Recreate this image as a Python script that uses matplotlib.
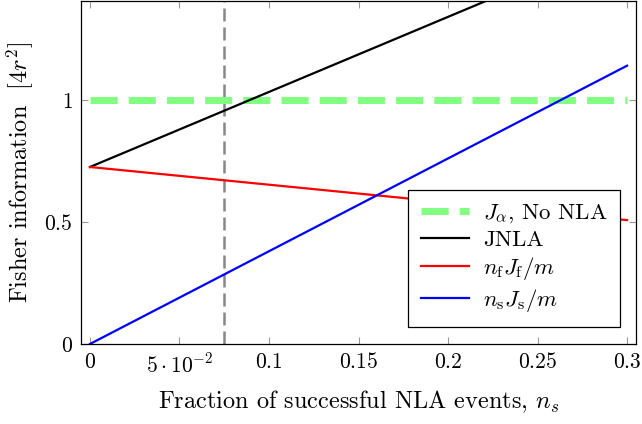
import numpy as np
import matplotlib
matplotlib.use("Agg")
import matplotlib.pyplot as plt

# Data
n_s = [0.0, 0.3]
nf_Jf = [0.725, 0.5075]
ns_Js = [0.0, 1.14]
jnla = [a + b for a, b in zip(nf_Jf, ns_Js)]
j_alpha = [1.0, 1.0]
vline_x = 0.075

xticks = [0, 0.05, 0.1, 0.15, 0.2, 0.25, 0.3]
xticklabels = [r'$0$', r'$5\cdot10^{-2}$', r'$0.1$', r'$0.15$', r'$0.2$', r'$0.25$', r'$0.3$']
yticks = [0, 0.5, 1]
yticklabels = [r'$0$', r'$0.5$', r'$1$']

plt.rcParams['mathtext.fontset'] = 'cm'
plt.rcParams['font.family'] = ['cmr10', 'DejaVu Serif']
plt.rcParams['axes.formatter.use_mathtext'] = True

fig = plt.figure(figsize=(6.42, 4.24), dpi=100)
ax = fig.add_axes([81/642, 1 - 344/424, (636-81)/642, 343/424])

ax.plot(n_s, j_alpha, color='#80ff80', lw=5.0, dashes=(3.9, 1.6), label=r'$J_\alpha$, No NLA', zorder=2)
ax.plot(n_s, jnla, color='black', lw=1.6, label='JNLA', zorder=3)
ax.plot(n_s, nf_Jf, color='red', lw=1.6, label=r'$n_\mathrm{f}J_\mathrm{f}/m$', zorder=3)
ax.plot(n_s, ns_Js, color='blue', lw=1.6, label=r'$n_\mathrm{s}J_\mathrm{s}/m$', zorder=3)
ax.axvline(vline_x, color='#888888', lw=1.8, dashes=(5.2, 2.4), zorder=1)

ax.set_xlim(-0.005, 0.305)
ax.set_ylim(0, 1.405)
ax.set_xticks(xticks)
ax.set_xticklabels(xticklabels)
ax.set_yticks(yticks)
ax.set_yticklabels(yticklabels)
ax.tick_params(direction='in', length=5, width=0.8, color='#999999', labelsize=15.5,
               top=True, right=True, pad=6)
for s in ax.spines.values():
    s.set_linewidth(0.9)

ax.set_xlabel(r'Fraction of successful NLA events, $n_s$', fontsize=17.5, labelpad=9)
ax.set_ylabel(r'Fisher information  $[4r^2]$', fontsize=17.5, labelpad=6)

leg = ax.legend(loc='lower right', bbox_to_anchor=(0.971, 0.05), fontsize=16.5,
                frameon=True, fancybox=False, edgecolor='black', framealpha=1,
                handlelength=2.1, borderpad=0.55, labelspacing=0.22, handletextpad=0.6,
                borderaxespad=0)
leg.get_frame().set_linewidth(0.9)

fig.savefig('out.png', dpi=100)
